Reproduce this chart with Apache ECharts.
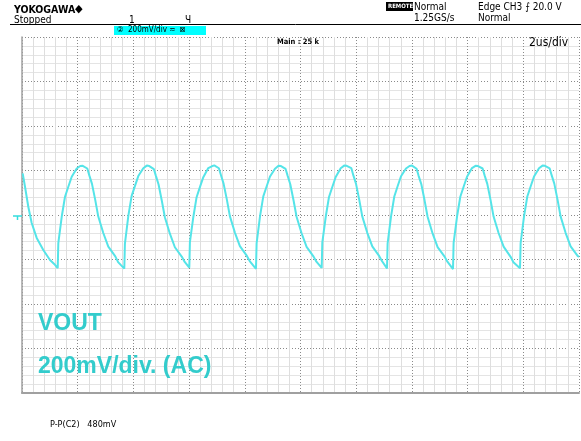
<!DOCTYPE html>
<html>
<head>
<meta charset="utf-8">
<script src="https://cdn.jsdelivr.net/npm/echarts@6/dist/echarts.min.js"></script>
<style>
html,body{margin:0;padding:0;background:#fff;}
#c{width:581px;height:441px;}
</style>
</head>
<body>
<div id="c"></div>
<script>
// Axis settings (time in microseconds, voltage in mV, AC coupled, 200 mV/div, 2 us/div)
const timeMin = 0, timeMax = 20, timeStep = 2;
const voltMin = -800, voltMax = 800, voltStep = 200;

// Trace readings [time us, mV]
const lead = [[0.025,187],[0.108,127],[0.226,37],[0.348,-36],[0.528,-103],[0.765,-157],[1.005,-202],[1.185,-224]];
const cycle1 = [[1.282,-239],[1.304,-126],[1.426,-8],[1.544,82],[1.663,127],[1.785,172],[1.964,209],[2.090,220],[2.180,221],[2.345,209],[2.417,178],[2.513,140],[2.631,67],[2.739,-7],[2.919,-81],[3.099,-142],[3.350,-186],[3.451,-212]];
const cycle2 = [[3.673,-241],[3.695,-130],[3.817,-5],[3.935,85],[4.054,130],[4.176,175],[4.355,210],[4.481,222],[4.571,220],[4.736,206],[4.808,176],[4.904,137],[5.022,63],[5.130,-10],[5.310,-84],[5.490,-145],[5.741,-188],[5.842,-211]];
const cycle3 = [[6.007,-237],[6.029,-122],[6.151,-10],[6.269,80],[6.388,125],[6.510,170],[6.689,211],[6.815,219],[6.905,223],[7.070,210],[7.142,180],[7.238,141],[7.356,69],[7.464,-5],[7.644,-79],[7.824,-140],[8.075,-184],[8.176,-207]];
const cycle4 = [[8.402,-242],[8.424,-128],[8.546,-6],[8.664,84],[8.783,128],[8.905,173],[9.084,208],[9.210,221],[9.300,220],[9.465,207],[9.537,177],[9.633,138],[9.751,65],[9.859,-8],[10.039,-82],[10.219,-143],[10.470,-187],[10.571,-210]];
const cycle5 = [[10.761,-238],[10.783,-124],[10.905,-9],[11.023,81],[11.142,126],[11.264,171],[11.443,210],[11.569,222],[11.659,221],[11.824,211],[11.896,179],[11.992,141],[12.110,68],[12.218,-6],[12.398,-80],[12.578,-141],[12.829,-185],[12.930,-208]];
const cycle6 = [[13.106,-240],[13.128,-127],[13.250,-7],[13.368,83],[13.487,129],[13.609,174],[13.788,209],[13.914,220],[14.004,222],[14.169,208],[14.241,176],[14.337,139],[14.455,66],[14.563,-8],[14.743,-83],[14.923,-144],[15.174,-187],[15.275,-210]];
const cycle7 = [[15.476,-243],[15.498,-125],[15.620,-8],[15.738,82],[15.857,127],[15.979,172],[16.158,211],[16.284,221],[16.374,220],[16.539,209],[16.611,178],[16.707,140],[16.825,67],[16.933,-7],[17.113,-81],[17.293,-142],[17.544,-188],[17.645,-212]];
const cycle8 = [[17.882,-239],[17.904,-126],[18.026,-6],[18.144,83],[18.263,128],[18.385,173],[18.564,210],[18.690,222],[18.780,221],[18.945,210],[19.017,179],[19.113,141],[19.231,68],[19.339,-6],[19.519,-80],[19.699,-141],[19.950,-184],[20.0,-188]];

const trace = [].concat(lead, cycle1, cycle2, cycle3, cycle4, cycle5, cycle6, cycle7, cycle8);

const narrow = "'Liberation Sans Narrow','DejaVu Sans Condensed','Liberation Sans',sans-serif";
const arial = "'Liberation Sans',Arial,sans-serif";
const txt = (x, y, s, size, opts) => {
  opts = opts || {};
  return {
    type: 'text', left: x, top: y, z: 100,
    style: {
      text: s, fontSize: size, fontFamily: opts.family || narrow,
      fontWeight: opts.bold ? 'bold' : 'normal', fill: opts.fill || '#000'
    }
  };
};

const chart = echarts.init(document.getElementById('c'), null, { renderer: 'canvas' });
chart.setOption({
  animation: false,
  backgroundColor: '#fff',
  grid: { left: 22, right: 2, top: 37, bottom: 48, containLabel: false },
  xAxis: {
    type: 'value', min: timeMin, max: timeMax, interval: timeStep,
    axisLabel: { show: false }, axisTick: { show: false },
    axisLine: { show: true, onZero: false, lineStyle: { color: '#a0a0a0', width: 2 } },
    splitLine: { show: true, lineStyle: { color: '#8a8a8a', width: 1, type: [1, 2] } },
    minorTick: { show: false, splitNumber: 5 },
    minorSplitLine: { show: true, lineStyle: { color: '#dedede', width: 1 } }
  },
  yAxis: {
    type: 'value', min: voltMin, max: voltMax, interval: voltStep,
    axisLabel: { show: false }, axisTick: { show: false },
    axisLine: { show: true, onZero: false, lineStyle: { color: '#a0a0a0', width: 1.5 } },
    splitLine: { show: true, lineStyle: { color: '#8a8a8a', width: 1, type: [1, 2] } },
    minorTick: { show: false, splitNumber: 5 },
    minorSplitLine: { show: true, lineStyle: { color: '#e4e4e4', width: 1 } }
  },
  series: [{
    type: 'line', data: trace, showSymbol: false, smooth: false,
    lineStyle: { color: '#55e4e8', width: 2 },
    z: 5
  }],
  graphic: [
    txt(14, 5, 'YOKOGAWA', 10.5, { bold: true }),
    txt(75, 4, '◆', 11),
    txt(14, 15, 'Stopped', 10),
    { type: 'line', z: 100, shape: { x1: 10, y1: 24.5, x2: 581, y2: 24.5 }, style: { stroke: '#000', lineWidth: 1 } },
    txt(129, 15, '1', 10),
    txt(185, 15, 'Ч', 10),
    { type: 'rect', z: 100, shape: { x: 114, y: 26, width: 92, height: 9 }, style: { fill: '#00ffff' } },
    txt(117, 26, '②  200mV/div ≂  ⊠', 8),
    { type: 'rect', z: 100, shape: { x: 386, y: 2, width: 27, height: 9 }, style: { fill: '#000' } },
    txt(388, 3.5, 'REMOTE', 6, { bold: true, fill: '#fff' }),
    txt(414, 2, 'Normal', 10),
    txt(414, 13, '1.25GS/s', 10),
    txt(478, 2, 'Edge CH3 ⨍ 20.0 V', 10),
    txt(478, 13, 'Normal', 10),
    txt(277, 38, 'Main : 25 k', 7.5, { bold: true }),
    txt(529, 37, '2us/div', 12),
    txt(38, 312, 'VOUT', 23, { bold: true, family: arial, fill: '#33cccc' }),
    txt(38, 355, '200mV/div. (AC)', 23, { bold: true, family: arial, fill: '#33cccc' }),
    txt(50, 420, 'P-P(C2)   480mV', 9)
  ]
});

// ground marker at 0 V on the left edge
const gy = chart.convertToPixel({ yAxisIndex: 0 }, 0);
chart.setOption({
  graphic: [
    { id: 'gnd1', type: 'line', z: 100, shape: { x1: 13, y1: gy + 1, x2: 22, y2: gy + 1 }, style: { stroke: '#33dddd', lineWidth: 1.5 } },
    { id: 'gnd2', type: 'line', z: 100, shape: { x1: 17.5, y1: gy + 1, x2: 17.5, y2: gy + 5 }, style: { stroke: '#33dddd', lineWidth: 1.5 } }
  ]
});
</script>
</body>
</html>
